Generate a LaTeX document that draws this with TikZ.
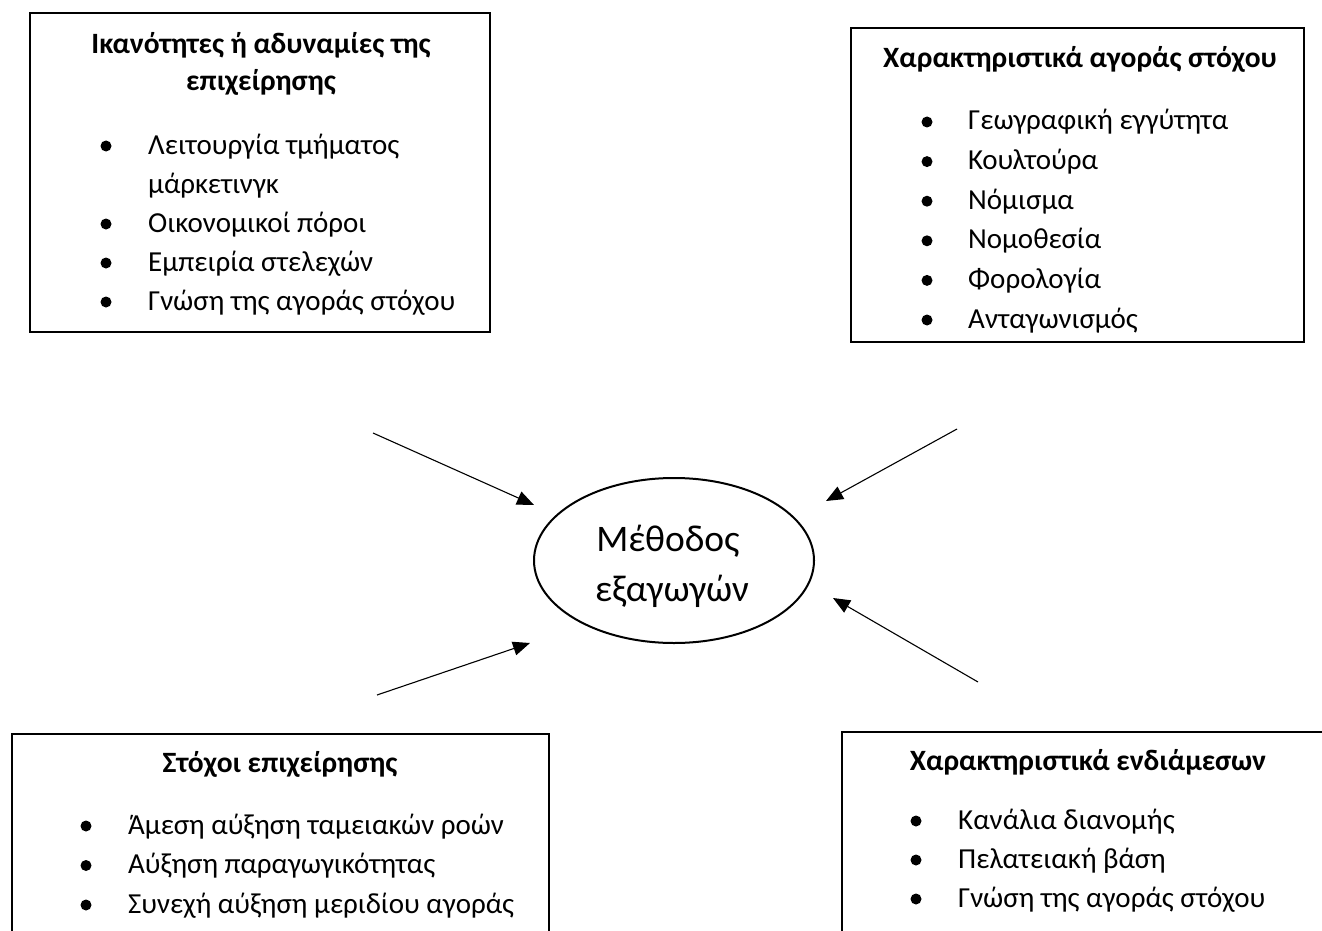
\documentclass[tikz,border=0pt]{standalone}
\usepackage{fontspec}
\setmainfont{Carlito}
\usetikzlibrary{positioning, arrows.meta, shapes.geometric}

\tikzset{
    box/.style={draw, rectangle, line width=2.5pt, inner sep=0pt},
    head/.style={anchor=base, inner sep=0pt, font=\fontsize{29.5}{37}\selectfont\bfseries},
    item/.style={anchor=base west, inner sep=0pt, font=\fontsize{29}{39}\selectfont},
    dot/.style={circle, fill, inner sep=0pt, minimum size=11pt},
    arr/.style={-{Triangle[length=17pt, width=14pt]}, line width=1.1pt}
}

\begin{document}
\begin{tikzpicture}[x=1pt, y=-1pt]
    \clip (0,0) rectangle (1322,931);
    % the four boxes
    \node[box, minimum width=460pt, minimum height=319pt] (ikan) at (260,172.5) {};
    \node[box, minimum width=453pt, minimum height=314pt] (agora) at (1077.5,185) {};
    \node[box, minimum width=537pt, minimum height=240pt] (stoxoi) at (280.5,854) {};
    \node[box, minimum width=520pt, minimum height=240pt] (endiam) at (1102,852) {};
    % headings
    \node[head] (ikanH1) at (261,54) {Ικανότητες ή αδυναμίες της};
    \node[head] (ikanH2) at (261,91) {επιχείρησης};
    \node[head] (agoraH) at (1080,68) {Χαρακτηριστικά αγοράς στόχου};
    \node[head] (stoxoiH) at (280,772) {Στόχοι επιχείρησης};
    \node[head] (endiamH) at (1088,770) {Χαρακτηριστικά ενδιάμεσων};
    % lists
    \foreach \t/\y [count=\i] in {Λειτουργία τμήματος/154, Οικονομικοί πόροι/232, Εμπειρία στελεχών/271, Γνώση της αγοράς στόχου/310} {
        \node[dot] (ikanB\i) at (106,\y-8) {};
        \node[item] (ikanI\i) at (148,\y) {\t};
    }
    \node[item] (ikanI0) at (148,193) {μάρκετινγκ};
    \begin{scope}
        \clip (agora.north west) rectangle ([yshift=10pt]agora.south east);
        \foreach \t [count=\i] in {Γεωγραφική εγγύτητα, Κουλτούρα, Νόμισμα, Νομοθεσία, Φορολογία, Ανταγωνισμός} {
            \node[dot] (agoraB\i) at (927,{122+39.6*(\i-1)}) {};
            \node[item] (agoraI\i) at (968,{130+39.6*(\i-1)}) {\t};
        }
    \end{scope}
    \foreach \t [count=\i] in {Άμεση αύξηση ταμειακών ροών, Αύξηση παραγωγικότητας, Συνεχή αύξηση μεριδίου αγοράς} {
        \node[dot] (stoxoiB\i) at (86,{826+39.5*(\i-1)}) {};
        \node[item] (stoxoiI\i) at (128,{834+39.5*(\i-1)}) {\t};
    }
    \foreach \t [count=\i] in {Κανάλια διανομής, Πελατειακή βάση, Γνώση της αγοράς στόχου} {
        \node[dot] (endiamB\i) at (916,{821+39*(\i-1)}) {};
        \node[item] (endiamI\i) at (958,{829+39*(\i-1)}) {\t};
    }
    % centre
    \node[draw, ellipse, line width=2pt, minimum width=280pt, minimum height=165pt] (methodos) at (674,560.5) {};
    \node[anchor=base, font=\fontsize{37.5}{50}\selectfont] (methodosT1) at (668,551) {Μέθοδος};
    \node[anchor=base, font=\fontsize{37.5}{50}\selectfont] (methodosT2) at (672,601) {εξαγωγών};
    % arrows
    \coordinate (tlS) at (373,433);
    \coordinate (tlE) at (534,505);
    \coordinate (trS) at (957,429);
    \coordinate (trE) at (826,501);
    \coordinate (blS) at (377,695);
    \coordinate (blE) at (530,643);
    \coordinate (brS) at (978,682);
    \coordinate (brE) at (833,598);
    \draw[arr] (tlS) -- (tlE);
    \draw[arr] (trS) -- (trE);
    \draw[arr] (blS) -- (blE);
    \draw[arr] (brS) -- (brE);
\end{tikzpicture}
\end{document}
